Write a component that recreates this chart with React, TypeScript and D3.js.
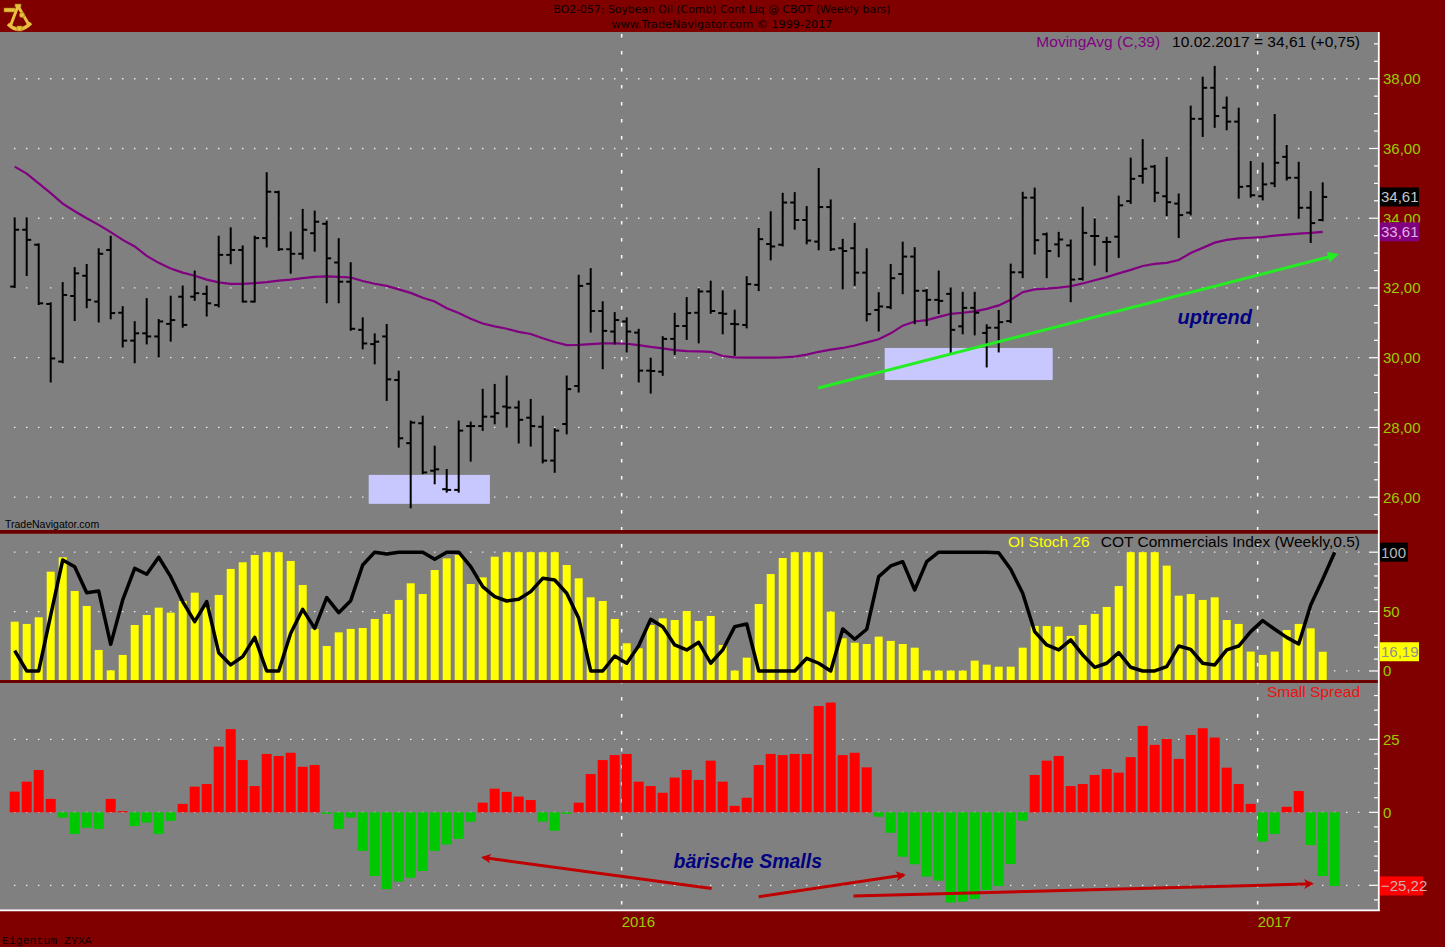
import * as d3 from 'd3';
import { useEffect } from 'react';

// weekly bars, 09.01.2015 .. 10.02.2017 (index 0..109)
const opens = [
  32.04, 33.67, 33.24, 31.54, 29.89, 31.77, 32.35, 31.61, 33.09, 31.29,
  30.49, 30.70, 30.61, 30.97, 31.75, 31.75, 31.83, 31.51, 32.95, 33.09,
  31.61, 33.43, 34.75, 33.11, 32.98, 33.57, 33.84, 32.73, 32.18, 30.80,
  30.39, 30.61, 29.36, 27.55, 28.12, 26.76, 26.23, 26.21, 28.04, 28.04,
  28.31, 28.60, 28.57, 28.28, 28.02, 27.05, 28.10, 29.19, 32.12, 31.34,
  30.75, 31.04, 30.72, 29.63, 29.60, 30.54, 30.91, 31.29, 31.90, 31.28,
  30.97, 30.94, 32.09, 33.26, 33.24, 34.45, 33.95, 33.33, 34.32, 33.14,
  33.14, 32.44, 31.37, 31.45, 32.40, 32.90, 31.92, 31.66, 31.83, 30.90,
  31.43, 30.71, 30.86, 31.05, 32.45, 34.59, 33.54, 33.25, 33.22, 32.26,
  33.49, 33.32, 33.47, 34.49, 35.21, 35.48, 34.63, 34.42, 34.16, 36.85,
  37.74, 37.17, 36.77, 34.92, 34.63, 35.00, 35.76, 35.16, 34.30, 33.95,
];
const highs = [
  34.00, 34.00, 33.25, 31.56, 32.14, 32.57, 32.66, 33.11, 33.47, 31.45,
  31.02, 31.68, 31.08, 31.75, 32.04, 32.47, 32.04, 33.47, 33.71, 33.19,
  33.47, 35.29, 34.76, 33.59, 34.24, 34.19, 33.90, 33.40, 32.71, 31.13,
  30.67, 30.94, 29.60, 28.17, 28.31, 27.45, 26.78, 28.17, 28.14, 29.08,
  29.22, 29.46, 28.74, 28.79, 28.31, 27.95, 29.46, 32.35, 32.54, 31.59,
  31.28, 31.13, 30.80, 29.98, 30.59, 31.26, 31.71, 31.96, 32.18, 31.90,
  31.35, 32.31, 33.69, 34.17, 34.70, 34.72, 34.32, 35.41, 34.51, 33.38,
  33.84, 33.11, 31.85, 32.66, 33.30, 33.14, 31.94, 32.47, 31.99, 31.86,
  31.86, 30.93, 31.34, 32.67, 34.73, 34.85, 33.56, 33.58, 33.36, 34.30,
  33.97, 33.44, 34.62, 35.71, 36.24, 35.50, 35.73, 34.68, 37.20, 38.03,
  38.34, 37.46, 37.14, 35.61, 35.57, 36.96, 36.07, 35.59, 34.75, 35.00,
];
const lows = [
  32.02, 32.37, 31.54, 29.32, 29.87, 31.08, 31.45, 31.04, 31.13, 30.32,
  29.87, 30.41, 30.03, 30.49, 30.89, 31.66, 31.21, 31.47, 32.71, 31.61,
  31.61, 33.19, 33.09, 32.44, 32.85, 33.07, 31.59, 31.59, 30.80, 30.27,
  29.84, 28.79, 27.45, 25.71, 26.69, 26.40, 26.16, 26.16, 27.05, 27.93,
  28.12, 28.02, 27.57, 27.48, 27.00, 26.73, 27.83, 29.03, 30.75, 29.70,
  30.41, 30.18, 29.32, 29.00, 29.51, 30.11, 30.54, 30.44, 31.29, 30.70,
  30.08, 30.87, 31.94, 32.82, 33.22, 33.70, 33.28, 33.11, 33.09, 31.99,
  32.09, 31.07, 30.78, 31.42, 31.85, 30.99, 30.94, 31.28, 30.16, 30.70,
  30.67, 29.75, 30.18, 31.02, 32.31, 32.99, 32.31, 32.91, 31.62, 32.24,
  32.67, 32.48, 32.89, 34.44, 35.02, 34.49, 34.09, 33.46, 34.11, 36.36,
  36.62, 36.55, 34.59, 34.62, 34.54, 34.92, 35.11, 34.01, 33.32, 33.94,
];
const closes = [
  33.67, 33.38, 31.56, 29.98, 31.80, 32.42, 31.66, 32.98, 31.28, 30.49,
  30.70, 30.61, 31.04, 31.08, 30.94, 31.85, 31.56, 32.95, 33.09, 31.61,
  33.43, 34.76, 33.11, 32.98, 33.67, 33.90, 32.85, 32.18, 30.83, 30.41,
  30.46, 29.38, 27.69, 28.14, 26.71, 26.80, 26.21, 27.91, 28.04, 28.31,
  28.41, 28.57, 28.22, 28.04, 27.05, 27.91, 29.10, 32.06, 31.34, 30.77,
  31.08, 30.75, 29.63, 29.62, 30.54, 30.91, 31.28, 31.90, 31.34, 31.26,
  30.96, 32.11, 33.40, 33.19, 34.45, 33.95, 33.36, 34.32, 33.11, 33.06,
  32.44, 31.25, 31.47, 32.28, 32.90, 31.92, 31.66, 31.63, 30.80, 31.43,
  31.29, 30.86, 31.02, 32.45, 34.59, 33.37, 33.06, 33.39, 32.24, 33.58,
  33.49, 33.32, 34.37, 35.13, 35.42, 34.73, 34.46, 34.09, 36.85, 37.74,
  36.93, 36.77, 34.90, 34.66, 34.97, 35.59, 35.16, 34.30, 33.86, 34.61,
];
const movingAvg39 = [
  35.48, 35.28, 35.00, 34.72, 34.42, 34.20, 34.00, 33.81, 33.60, 33.38,
  33.19, 32.92, 32.72, 32.56, 32.44, 32.35, 32.24, 32.16, 32.12, 32.12,
  32.14, 32.17, 32.21, 32.24, 32.28, 32.32, 32.33, 32.32, 32.30, 32.20,
  32.12, 32.06, 31.96, 31.86, 31.72, 31.61, 31.42, 31.28, 31.12, 30.98,
  30.90, 30.83, 30.74, 30.68, 30.56, 30.45, 30.36, 30.37, 30.39, 30.41,
  30.41, 30.40, 30.36, 30.31, 30.27, 30.22, 30.19, 30.18, 30.17, 30.05,
  30.01, 30.00, 30.00, 30.00, 30.01, 30.03, 30.09, 30.17, 30.23, 30.28,
  30.35, 30.44, 30.53, 30.70, 30.92, 31.04, 31.08, 31.17, 31.26, 31.29,
  31.33, 31.40, 31.50, 31.66, 31.88, 31.96, 31.98, 32.01, 32.05, 32.13,
  32.22, 32.31, 32.42, 32.52, 32.63, 32.69, 32.72, 32.80, 33.00, 33.15,
  33.30, 33.38, 33.42, 33.44, 33.46, 33.50, 33.53, 33.56, 33.58, 33.61,
];

// OI Stoch 26 (yellow columns)
const oiStoch = [
  41.5, 39.6, 45.2, 83.6, 95.7, 67.3, 54.7, 17.7, 0.5, 13.5,
  38.7, 47.1, 53.3, 49.1, 58.9, 65.9, 53.6, 64.0, 85.9, 91.5,
  97.6, 100, 100, 92.6, 72.4, 35.4, 21.0, 32.5, 35.4, 36.2,
  43.8, 48.0, 59.8, 73.8, 64.8, 85.0, 94.8, 97.6, 73.2, 78.8,
  96.2, 100, 100, 100, 100, 100, 89.2, 78.0, 62.0, 58.9,
  43.8, 23.3, 19.1, 38.7, 44.3, 42.9, 50.5, 42.1, 46.3, 21.9,
  0.3, 11.2, 56.4, 81.6, 95.1, 100, 100, 100, 49.9, 27.5,
  23.8, 22.7, 28.9, 25.3, 22.7, 19.6, 0.3, 0.3, 0.3, 0.3,
  8.7, 5.3, 3.6, 3.6, 19.6, 37.9, 37.9, 37.3, 29.5, 38.7,
  48.0, 53.9, 71.5, 100, 100, 100, 88.7, 63.4, 64.8, 59.8,
  62.0, 42.9, 39.6, 16.3, 13.5, 16.3, 34.5, 39.6, 35.9, 16.19,
];
// COT Commercials Index (Weekly,0.5) - one week longer than price
const cotIndex = [
  17.1, 0, 0, 47.1, 93.4, 87.8, 65.9, 67.3, 22.4, 59.8,
  86.4, 81.4, 95.7, 79.4, 58.4, 41.5, 58.4, 15.4, 5.1, 12.1,
  28.3, 0, 0, 31.7, 51.9, 35.9, 61.7, 49.1, 59.2, 89.2,
  100, 98.5, 100, 100, 100, 94.0, 100, 100, 87.8, 71.0,
  62.6, 58.9, 60.3, 66.8, 78.0, 76.6, 65.4, 44.3, 0, 0,
  12.6, 6.5, 21.3, 43.5, 37.3, 21.9, 17.7, 24.1, 6.5, 17.7,
  37.3, 39.6, 0, 0, 0, 0, 10.7, 6.5, 0, 35.4,
  26.7, 35.1, 79.4, 88.4, 92.0, 68.2, 92.0, 100, 100, 100,
  100, 100, 99.6, 85.6, 65.4, 33.1, 21.9, 17.7, 26.1, 13.5,
  3.1, 6.5, 15.4, 3.1, 0, 0, 3.6, 21.0, 18.2, 6.5,
  5.1, 17.7, 21.0, 33.1, 42.4, 35.1, 28.3, 22.7, 55.6, 77.2,
  100,
];
// Small Spread
const smallSpread = [
  7.1, 10.5, 14.5, 4.6, -1.8, -7.4, -5.3, -5.7, 4.6, 0.4,
  -4.7, -3.5, -7.4, -2.9, 2.9, 8.8, 9.7, 22.5, 28.5, 17.9,
  9.0, 20.0, 19.3, 20.4, 15.6, 16.2, -0.5, -5.7, -1.8, -13.2,
  -21.8, -26.3, -23.7, -22.4, -20.1, -13.2, -11.0, -9.1, -3.2, 3.3,
  8.1, 7.0, 5.4, 4.2, -3.2, -6.3, -0.5, 3.3, 13.1, 17.9,
  19.6, 20.0, 10.5, 9.0, 6.7, 11.9, 14.5, 11.1, 17.7, 10.5,
  2.2, 5.0, 16.2, 20.0, 19.6, 20.0, 20.0, 36.4, 37.6, 19.6,
  20.4, 15.4, -1.5, -7.0, -15.2, -17.8, -22.0, -23.4, -30.9, -30.6,
  -29.7, -26.6, -25.2, -17.7, -2.9, 12.8, 17.7, 19.3, 9.0, 9.7,
  12.8, 14.8, 13.6, 18.9, 29.6, 23.1, 25.1, 18.3, 26.5, 28.8,
  25.6, 15.3, 9.7, 2.9, -10.0, -7.4, 1.9, 7.3, -11.2, -21.8,
  -25.22,
];

const priceTicks = [26, 28, 30, 32, 34, 36, 38];
const oiTicks = [0, 50, 100];
const oiLabels = [0, 50];
const spreadTicks = [-25, 0, 25];
const spreadLabels = [0, 25];
const yearBreaks = [
  { label: '2016', bar: 50.58 },
  { label: '2017', bar: 103.58 },
];

// annotations (bar index / value)
const zoneBoxes = [
  { from: 29.5, to: 39.6, top: 26.64, bottom: 25.81 },
  { from: 72.5, to: 86.5, top: 30.28, bottom: 29.36 },
];
const trendArrow = { i0: 66.97, p0: 29.13, i1: 110.17, p1: 32.95 };
const spreadArrows = [
  { i0: 58.08, v0: -26.1, i1: 39.03, v1: -15.5 },
  { i0: 62.0, v0: -28.9, i1: 74.1, v1: -21.5 },
  { i0: 69.9, v0: -28.7, i1: 108.1, v1: -24.5 },
];

const SANS = "'Liberation Sans', Arial, sans-serif";
const AXIS_GREEN = '#99CC00';
const fmt = (v: number) => d3.format('.2f')(v).replace('.', ',');

export default function App() {
  useEffect(() => {
    document.body.style.margin = '0';
  }, []);

  const W = 1445, H = 947, right = 1378;
  const x = d3.scaleLinear().domain([0, 110]).range([14.7, 1334.7]);
  const yP = d3.scaleLinear().domain([25.06, 39.34]).range([530, 32]);
  const yO = d3.scaleLinear().domain([-7.6, 115.3]).range([680, 534]);
  const yS = d3.scaleLinear().domain([-33.8, 44.3]).range([911, 683]);

  const maPath = d3.line<number>().x((_, i) => x(i)).y(d => yP(d))(movingAvg39) || '';
  const cotPath = d3.line<number>().x((_, i) => x(i)).y(d => yO(d))(cotIndex) || '';

  const dotted = (y: number, key: string) => (
    <line key={key} x1={x(0) - 0.75} x2={1368} y1={y} y2={y}
      stroke="#e8e8e8" strokeWidth={1.3} strokeDasharray="1.5 10.5" />
  );

  const tickMarks = (vals: number[], major: (v: number) => boolean, scale: (v: number) => number) =>
    vals.map(v => (
      <line key={v} x1={major(v) ? right - 9 : right - 4} x2={right} y1={scale(v)} y2={scale(v)}
        stroke="white" strokeWidth={1.2} />
    ));

  const valueBox = (label: string, y: number, w: number, bg: string, fg: string) => (
    <g>
      <rect x={right + 2} y={y - 9.5} width={w} height={19} fill={bg} />
      <text x={right + 3} y={y} dy="0.36em" fontFamily={SANS} fontSize={15} fill={fg}>{label}</text>
    </g>
  );

  return (
    <svg width={W} height={H} style={{ display: 'block' }}>
      <defs>
        <marker id="greenHead" viewBox="0 0 10 10" refX={8} refY={5} markerUnits="userSpaceOnUse"
          markerWidth={13} markerHeight={11} orient="auto">
          <path d="M0,0 L10,5 L0,10 z" fill="#22ee22" />
        </marker>
        <marker id="redHead" viewBox="0 0 10 10" refX={8} refY={5} markerUnits="userSpaceOnUse"
          markerWidth={11} markerHeight={10} orient="auto">
          <path d="M0,0 L10,5 L0,10 L3,5 z" fill="#c00000" />
        </marker>
      </defs>

      <rect width={W} height={H} fill="#800000" />

      {/* panels */}
      <rect x={0} y={32} width={right} height={498} fill="#808080" />
      <rect x={0} y={533.5} width={right} height={146.5} fill="#808080" />
      <rect x={0} y={683} width={right} height={227} fill="#808080" />

      {/* grid */}
      {priceTicks.map(v => dotted(yP(v), 'p' + v))}
      {oiTicks.map(v => dotted(yO(v), 'o' + v))}
      {spreadTicks.map(v => dotted(yS(v), 's' + v))}
      {yearBreaks.map(b => (
        <line key={b.label} x1={x(b.bar)} x2={x(b.bar)} y1={34} y2={910}
          stroke="white" strokeWidth={1.5} strokeDasharray="3.5 13.5" />
      ))}

      {/* price panel */}
      {zoneBoxes.map((b, k) => (
        <rect key={k} x={x(b.from)} y={yP(b.top)} width={x(b.to) - x(b.from)}
          height={yP(b.bottom) - yP(b.top)} fill="#c8c8ff" />
      ))}
      <path d={maPath} fill="none" stroke="#800080" strokeWidth={2.2} />
      <g stroke="black" strokeWidth={2}>
        {closes.map((c, i) => (
          <g key={i}>
            <line x1={x(i)} x2={x(i)} y1={yP(highs[i]) - 1} y2={yP(lows[i]) + 1} />
            <line x1={x(i) - 4.5} x2={x(i)} y1={yP(opens[i])} y2={yP(opens[i])} />
            <line x1={x(i)} x2={x(i) + 4.5} y1={yP(c)} y2={yP(c)} />
          </g>
        ))}
      </g>
      <line x1={x(trendArrow.i0)} y1={yP(trendArrow.p0)} x2={x(trendArrow.i1)} y2={yP(trendArrow.p1)}
        stroke="#22ee22" strokeWidth={3} markerEnd="url(#greenHead)" />
      <text x={x(96.9)} y={yP(30.97)} fontFamily={SANS} fontSize={20} fontWeight="bold"
        fontStyle="italic" fill="#000080">uptrend</text>
      <text x={5} y={528} fontFamily={SANS} fontSize={10.5} fill="black">TradeNavigator.com</text>
      <text x={1360} y={47} textAnchor="end" fontFamily={SANS} fontSize={15.5}>
        <tspan fill="#800080">MovingAvg (C,39)</tspan>
        <tspan fill="black" dx={12}>10.02.2017 = 34,61 (+0,75)</tspan>
      </text>

      {/* OI stoch / COT panel */}
      {oiStoch.map((v, i) => (
        <rect key={i} x={x(i) - 4} y={yO(v)} width={8} height={680 - yO(v)} fill="#ffff00" />
      ))}
      <path d={cotPath} fill="none" stroke="black" strokeWidth={3.5} strokeLinejoin="round" />
      <text x={1360} y={547} textAnchor="end" fontFamily={SANS} fontSize={15.5}>
        <tspan fill="#ffff00">OI Stoch 26</tspan>
        <tspan fill="black" dx={11}>COT Commercials Index (Weekly,0.5)</tspan>
      </text>

      {/* small spread panel */}
      {smallSpread.map((v, i) => (
        <rect key={i} x={x(i) - 5} y={Math.min(yS(v), yS(0))} width={10}
          height={Math.max(Math.abs(yS(v) - yS(0)), 1)} fill={v >= 0 ? '#ff0000' : '#00c800'} />
      ))}
      {spreadArrows.map((a, k) => (
        <line key={k} x1={x(a.i0)} y1={yS(a.v0)} x2={x(a.i1)} y2={yS(a.v1)}
          stroke="#c00000" strokeWidth={3} markerEnd="url(#redHead)" />
      ))}
      <text x={x(54.9)} y={yS(-19.1)} fontFamily={SANS} fontSize={19.5} fontWeight="bold"
        fontStyle="italic" fill="#000080">bärische Smalls</text>
      <text x={1360} y={697} textAnchor="end" fontFamily={SANS} fontSize={15.5} fill="#ee1111">Small Spread</text>

      {/* separators and frame */}
      <rect x={0} y={530} width={right + 2} height={3.5} fill="#6a0000" />
      <rect x={0} y={680} width={right + 2} height={3} fill="#6a0000" />
      <line x1={right + 0.8} x2={right + 0.8} y1={32} y2={911} stroke="white" strokeWidth={1.8} />
      <line x1={0} x2={right + 1.7} y1={910.3} y2={910.3} stroke="white" strokeWidth={1.8} />

      {/* right axes */}
      {tickMarks(d3.range(25.5, 39.5, 0.5), v => v % 2 === 0, yP)}
      {tickMarks(d3.range(0, 110, 10), v => v % 50 === 0, yO)}
      {tickMarks(d3.range(-30, 45, 5), v => v % 25 === 0, yS)}
      <g fontFamily={SANS} fontSize={15} fill={AXIS_GREEN}>
        {priceTicks.map(v => (
          <text key={v} x={right + 5} y={yP(v)} dy="0.36em">{fmt(v)}</text>
        ))}
        {oiLabels.map(v => (
          <text key={v} x={right + 5} y={yO(v)} dy="0.36em">{v}</text>
        ))}
        {spreadLabels.map(v => (
          <text key={v} x={right + 5} y={yS(v)} dy="0.36em">{v}</text>
        ))}
        {yearBreaks.map(b => (
          <text key={b.label} x={x(b.bar)} y={927}>{b.label}</text>
        ))}
      </g>
      {valueBox(fmt(closes[closes.length - 1]), yP(closes[closes.length - 1]), 39, '#000000', '#c8c8c8')}
      {valueBox(fmt(movingAvg39[movingAvg39.length - 1]), yP(movingAvg39[movingAvg39.length - 1]), 39, '#800080', '#e0b0e0')}
      {valueBox(String(cotIndex[cotIndex.length - 1]), yO(cotIndex[cotIndex.length - 1]), 28, '#000000', '#b8b8b8')}
      {valueBox(fmt(oiStoch[oiStoch.length - 1]), yO(oiStoch[oiStoch.length - 1]), 39, '#ffff00', '#909090')}
      {valueBox(fmt(smallSpread[smallSpread.length - 1]), yS(smallSpread[smallSpread.length - 1]), 43, '#ff0000', '#d0b0b0')}

      {/* header */}
      <g fontFamily="'Liberation Sans Narrow', 'DejaVu Sans Condensed', sans-serif" fontSize={11} fill="#0a0000" textAnchor="middle">
        <text x={722} y={13} textLength={337} lengthAdjust="spacingAndGlyphs">BO2-057:  Soybean Oil (Comb) Cont Liq @ CBOT  (Weekly bars)</text>
        <text x={722} y={28} textLength={221} lengthAdjust="spacingAndGlyphs">www.TradeNavigator.com © 1999-2017</text>
      </g>
      <g transform="translate(2,2)" fill="#e8c040" stroke="#9a7000" strokeWidth={0.6}>
        <rect x={2} y={6} width={11} height={4} />
        <rect x={13} y={2} width={6} height={3} />
        <path d="M16 4 L8 25 M16 4 L27 23" fill="none" stroke="#e8c040" strokeWidth={3} />
        <path d="M6 22 Q17 33 29 21" fill="none" stroke="#e8c040" strokeWidth={3.5} />
        <circle cx={20} cy={13} r={2.6} />
        <rect x={15} y={24} width={5} height={5} />
      </g>
      <text x={2} y={944} fontFamily="'Liberation Mono', monospace" fontSize={11.5} fill="#100000">Eigentum ZYXA</text>
    </svg>
  );
}
